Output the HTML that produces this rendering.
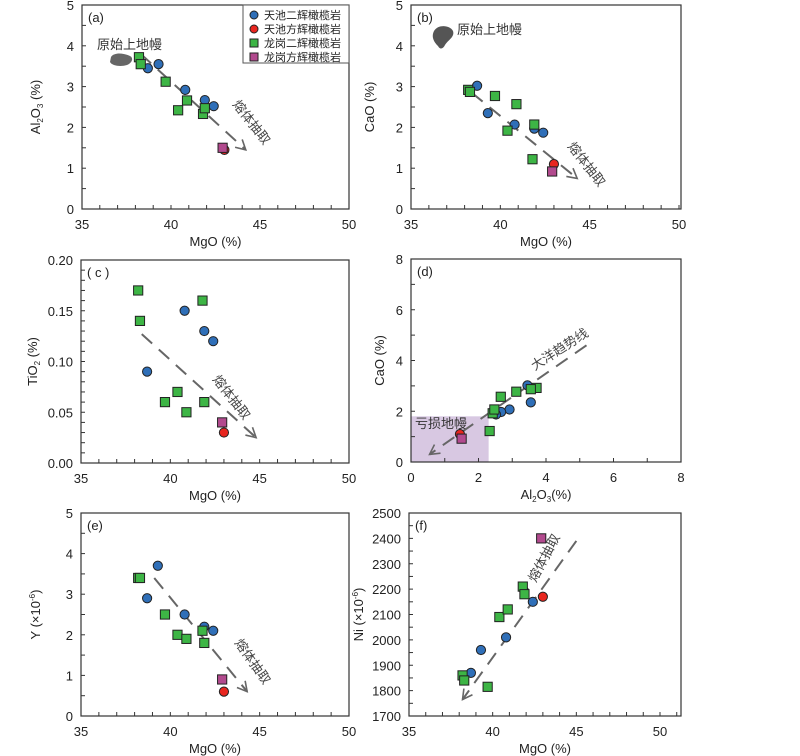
<!DOCTYPE html>
<html><head><meta charset="utf-8"><style>
body{margin:0;background:#fff;}
svg{display:block;font-family:"Liberation Sans","Noto Sans CJK SC",sans-serif;}
</style></head><body>
<svg id="fig" width="800" height="756" viewBox="0 0 800 756"></svg>
<script>
// ---- data ----
const blueMgO=[38.7,39.3,40.8,41.9,42.4];
const greenMgO=[38.2,38.3,39.7,40.4,40.9,41.8,41.9];
const redMgO=[43.0];
const pinkMgO=[42.9];
const blueAl=[3.45,3.55,2.92,2.67,2.52];
const greenAl=[3.72,3.55,3.12,2.42,2.66,2.33,2.47];
const redAl=[1.45];
const pinkAl=[1.50];
const blueCaO=[3.02,2.35,2.07,1.97,1.87];
const greenCaO=[2.92,2.87,2.77,1.92,2.57,1.22,2.07];
const redCaO=[1.10];
const pinkCaO=[0.92];
const blueMgOTi=[38.7,40.8,41.9,42.4];
const blueTi=[0.09,0.15,0.13,0.12];
const greenTi=[0.17,0.14,0.06,0.07,0.05,0.16,0.06];
const redTi=[0.03];
const pinkTi=[0.04];
const blueY=[2.9,3.7,2.5,2.2,2.1];
const greenY=[3.4,3.4,2.5,2.0,1.9,2.1,1.8];
const redY=[0.6];
const pinkY=[0.9];
const blueNi=[1870,1960,2010,2190,2150];
const greenNi=[1860,1840,1815,2090,2120,2210,2180];
const redNi=[2170];
const pinkNi=[2400];
const mgoTicks=[35,40,45,50];
const legendLabels=["天池二辉橄榄岩","天池方辉橄榄岩","龙岗二辉橄榄岩","龙岗方辉橄榄岩"];
</script>
<script>
const NS="http://www.w3.org/2000/svg";
const svg=document.getElementById('fig');
function mk(tag,attrs,parent,text){const e=document.createElementNS(NS,tag);for(const k in attrs)e.setAttribute(k,attrs[k]);if(text!==undefined)e.textContent=text;(parent||svg).appendChild(e);return e;}
const COL={blue:"#2f6fb8",red:"#e8261f",green:"#3db545",pink:"#b24a8e"};

function panel(o){
  const g=mk('g',{});
  
  
  const sx=v=>o.L+(v-o.xd[0])/(o.xd[1]-o.xd[0])*(o.XR-o.L);
  const sy=v=>o.B-(v-o.yd[0])/(o.yd[1]-o.yd[0])*(o.B-o.T);
  const extras=mk('g',{},g);
  
  
  if(o.before)o.before(extras,sx,sy);
  const fr=mk('rect',{x:o.L,y:o.T,width:o.R-o.L,height:o.B-o.T,fill:'none',stroke:'#333','stroke-width':1.2},g);
  
  
  const xa=mk('g',{},g);
  
  
  for(let v=o.xd[0];v<=o.xmax+1e-9;v+=o.xminor){const x=sx(v);if(x>o.R+0.5)break;mk('line',{x1:x,x2:x,y1:o.B,y2:o.B-4,stroke:'#333','stroke-width':1},xa);}
  o.xt.forEach(v=>{const t=mk('text',{x:sx(v),y:o.B+20,'text-anchor':'middle','font-size':13,fill:'#222'},xa,String(v));});
  const xl=mk('text',{x:(o.L+o.R)/2,y:o.B+37,'text-anchor':'middle','font-size':13,fill:'#222'},xa);
  
  
  xl.innerHTML=o.xlabel;
  const ya=mk('g',{},g);
  
  
  const n=Math.round((o.yd[1]-o.yd[0])/o.yminor);
  for(let i=0;i<=n;i++){const y=sy(o.yd[0]+i*o.yminor);mk('line',{x1:o.L,x2:o.L+4,y1:y,y2:y,stroke:'#333','stroke-width':1},ya);}
  o.yt.forEach((v,i)=>{const t=mk('text',{x:o.L-8,y:sy(v)+5,'text-anchor':'end','font-size':13,fill:'#222'},ya,o.ytl[i]);});
  const yl=mk('text',{x:0,y:0,'text-anchor':'middle','font-size':13,fill:'#222',transform:`translate(${o.ylx},${(o.T+o.B)/2}) rotate(-90)`},ya);
  
  
  yl.innerHTML=o.ylabel;
  const pl=mk('text',{x:o.L+6,y:o.T+17,'font-size':13,fill:'#222'},g,o.plabel);
  
  
  o.series.forEach(s=>{
    const sg=mk('g',{},g);
    
    
    s.x.forEach((xv,i)=>{
      const cx=sx(xv),cy=sy(s.y[i]);let m;
      if(s.shape==='c')m=mk('circle',{cx,cy,r:4.6,fill:COL[s.col],stroke:'#222','stroke-width':1},sg);
      else m=mk('rect',{x:cx-4.6,y:cy-4.6,width:9.2,height:9.2,fill:COL[s.col],stroke:'#222','stroke-width':1},sg);
      
      
    });
  });
  return g;
}
function arrowLine(p,x1,y1,x2,y2){
  mk('line',{x1,y1,x2,y2,stroke:'#666','stroke-width':2,'stroke-dasharray':'14,9'},p);
  const a=Math.atan2(y2-y1,x2-x1),L=11;
  const pts=[[x2-L*Math.cos(a-0.5),y2-L*Math.sin(a-0.5)],[x2,y2],[x2-L*Math.cos(a+0.5),y2-L*Math.sin(a+0.5)]];
  mk('polyline',{points:pts.map(q=>q.join(',')).join(' '),fill:'none',stroke:'#666','stroke-width':1.6},p);
}
function rotText(p,x,y,ang,txt,name){
  const t=mk('text',{x:0,y:0,'text-anchor':'middle','font-size':13,fill:'#444',transform:`translate(${x},${y}) rotate(${ang})`},p,txt);
  
  
}
function std(b,g,r,p,xs){return [
 {name:'tianchi-lherzolite',shape:'c',col:'blue',x:xs[0],y:b},
 {name:'tianchi-harzburgite',shape:'c',col:'red',x:xs[2],y:r},
 {name:'longgang-lherzolite',shape:'s',col:'green',x:xs[1],y:g},
 {name:'longgang-harzburgite',shape:'s',col:'pink',x:xs[3],y:p}];}
const MX=[blueMgO,greenMgO,redMgO,pinkMgO];
const mgoLabel='MgO (%)';

panel({id:'a',L:82,R:349,XR:349,T:5,B:209,xd:[35,50],xmax:50,xminor:1,yd:[0,5],yminor:0.5,xt:mgoTicks,yt:[0,1,2,3,4,5],ytl:['0','1','2','3','4','5'],
 xlabel:mgoLabel,ylabel:'Al<tspan font-size="8" dy="3">2</tspan><tspan dy="-3">O</tspan><tspan font-size="8" dy="3">3</tspan><tspan dy="-3"> (%)</tspan>',ylx:40,plabel:'(a)',
 series:std(blueAl,greenAl,redAl,pinkAl,MX),
 before:(p,sx,sy)=>{
  mk('path',{d:'M111,57 C114,52 124,53 130,56 C134,58 132,63 127,65 C121,67 112,66 110,62 Z',fill:'#666'},p);
  const t=mk('text',{x:97,y:49,'font-size':13,fill:'#333'},p,'原始上地幔');
  arrowLine(p,sx(38.3),sy(3.8),sx(44.2),sy(1.45));
  rotText(p,248,125,52,'熔体抽取','melt-extraction-label');
 }});
const lg=mk('g',{});


mk('rect',{x:243,y:5,width:106,height:58,fill:'#fff',stroke:'#555','stroke-width':1},lg);
legendLabels.forEach((lab,i)=>{
  const y=15+i*14, col=['blue','red','green','pink'][i];
  const eg=mk('g',{},lg);
  
  
  if(i<2)mk('circle',{cx:254,cy:y,r:4,fill:COL[col],stroke:'#222','stroke-width':1},eg);
  else mk('rect',{x:250,y:y-4,width:8,height:8,fill:COL[col],stroke:'#222','stroke-width':1},eg);
  mk('text',{x:264,y:y+4,'font-size':11,fill:'#222'},eg,lab);
});

panel({id:'b',L:411,R:681,XR:679,T:5,B:209,xd:[35,50],xmax:51,xminor:1,yd:[0,5],yminor:0.5,xt:mgoTicks,yt:[0,1,2,3,4,5],ytl:['0','1','2','3','4','5'],
 xlabel:mgoLabel,ylabel:'CaO (%)',ylx:374,plabel:'(b)',
 series:std(blueCaO,greenCaO,redCaO,pinkCaO,MX),
 before:(p,sx,sy)=>{
  mk('path',{d:'M434,31 C438,24 450,25 453,31 C455,37 448,40 445,45 C443,49 440,50 438,46 C434,42 431,37 434,31 Z',fill:'#555'},p);
  const t=mk('text',{x:457,y:34,'font-size':13,fill:'#333'},p,'原始上地幔');
  arrowLine(p,sx(38.4),sy(2.85),sx(44.3),sy(0.75));
  rotText(p,583,167,52,'熔体抽取','melt-extraction-label');
 }});

panel({id:'c',L:81,R:349,XR:349,T:260,B:463,xd:[35,50],xmax:50,xminor:1,yd:[0,0.2],yminor:0.01,xt:mgoTicks,yt:[0,0.05,0.1,0.15,0.2],ytl:['0.00','0.05','0.10','0.15','0.20'],
 xlabel:mgoLabel,ylabel:'TiO<tspan font-size="8" dy="3">2</tspan><tspan dy="-3"> (%)</tspan>',ylx:37,plabel:'( c )',
 series:std(blueTi,greenTi,redTi,pinkTi,[blueMgOTi,greenMgO,redMgO,pinkMgO]),
 before:(p,sx,sy)=>{
  arrowLine(p,sx(38.4),sy(0.127),sx(44.8),sy(0.025));
  rotText(p,228,400,52,'熔体抽取','melt-extraction-label');
 }});

panel({id:'d',L:411,R:681,XR:681,T:259,B:462,xd:[0,8],xmax:8,xminor:1,yd:[0,8],yminor:1,xt:[0,2,4,6,8],yt:[0,2,4,6,8],ytl:['0','2','4','6','8'],
 xlabel:'Al<tspan font-size="8" dy="3">2</tspan><tspan dy="-3">O</tspan><tspan font-size="8" dy="3">3</tspan><tspan dy="-3">(%)</tspan>',ylabel:'CaO (%)',ylx:384,plabel:'(d)',
 series:std(blueCaO,greenCaO,redCaO,pinkCaO,[blueAl,greenAl,redAl,pinkAl]),
 before:(p,sx,sy)=>{
  const r=mk('rect',{x:sx(0),y:sy(1.8),width:sx(2.3)-sx(0),height:sy(0)-sy(1.8),fill:'#d8c8e2'},p);
  
  const t=mk('text',{x:415,y:428,'font-size':13,fill:'#333'},p,'亏损地幔');
  arrowLine(p,sx(5.2),sy(4.6),sx(0.55),sy(0.3));
  rotText(p,562,353,-33,'大洋趋势线','ocean-trend-label');
 }});

panel({id:'e',L:81,R:349,XR:349,T:513,B:716,xd:[35,50],xmax:50,xminor:1,yd:[0,5],yminor:0.5,xt:mgoTicks,yt:[0,1,2,3,4,5],ytl:['0','1','2','3','4','5'],
 xlabel:mgoLabel,ylabel:'Y (×10<tspan font-size="8" dy="-5">-6</tspan><tspan dy="5">)</tspan>',ylx:40,plabel:'(e)',
 series:std(blueY,greenY,redY,pinkY,MX),
 before:(p,sx,sy)=>{
  arrowLine(p,sx(39.1),sy(3.4),sx(44.3),sy(0.6));
  rotText(p,249,664,55,'熔体抽取','melt-extraction-label');
 }});

panel({id:'f',L:409,R:681,XR:660,T:513,B:716,xd:[35,50],xmax:51,xminor:1,yd:[1700,2500],yminor:50,xt:mgoTicks,yt:[1700,1800,1900,2000,2100,2200,2300,2400,2500],ytl:['1700','1800','1900','2000','2100','2200','2300','2400','2500'],
 xlabel:mgoLabel,ylabel:'Ni (×10<tspan font-size="8" dy="-5">-6</tspan><tspan dy="5">)</tspan>',ylx:363,plabel:'(f)',
 series:std(blueNi,greenNi,redNi,pinkNi,MX),
 before:(p,sx,sy)=>{
  arrowLine(p,sx(45),sy(2390),sx(38.2),sy(1765));
  rotText(p,548,560,-62,'熔体抽取','melt-extraction-label');
 }});
</script>
</body></html>
